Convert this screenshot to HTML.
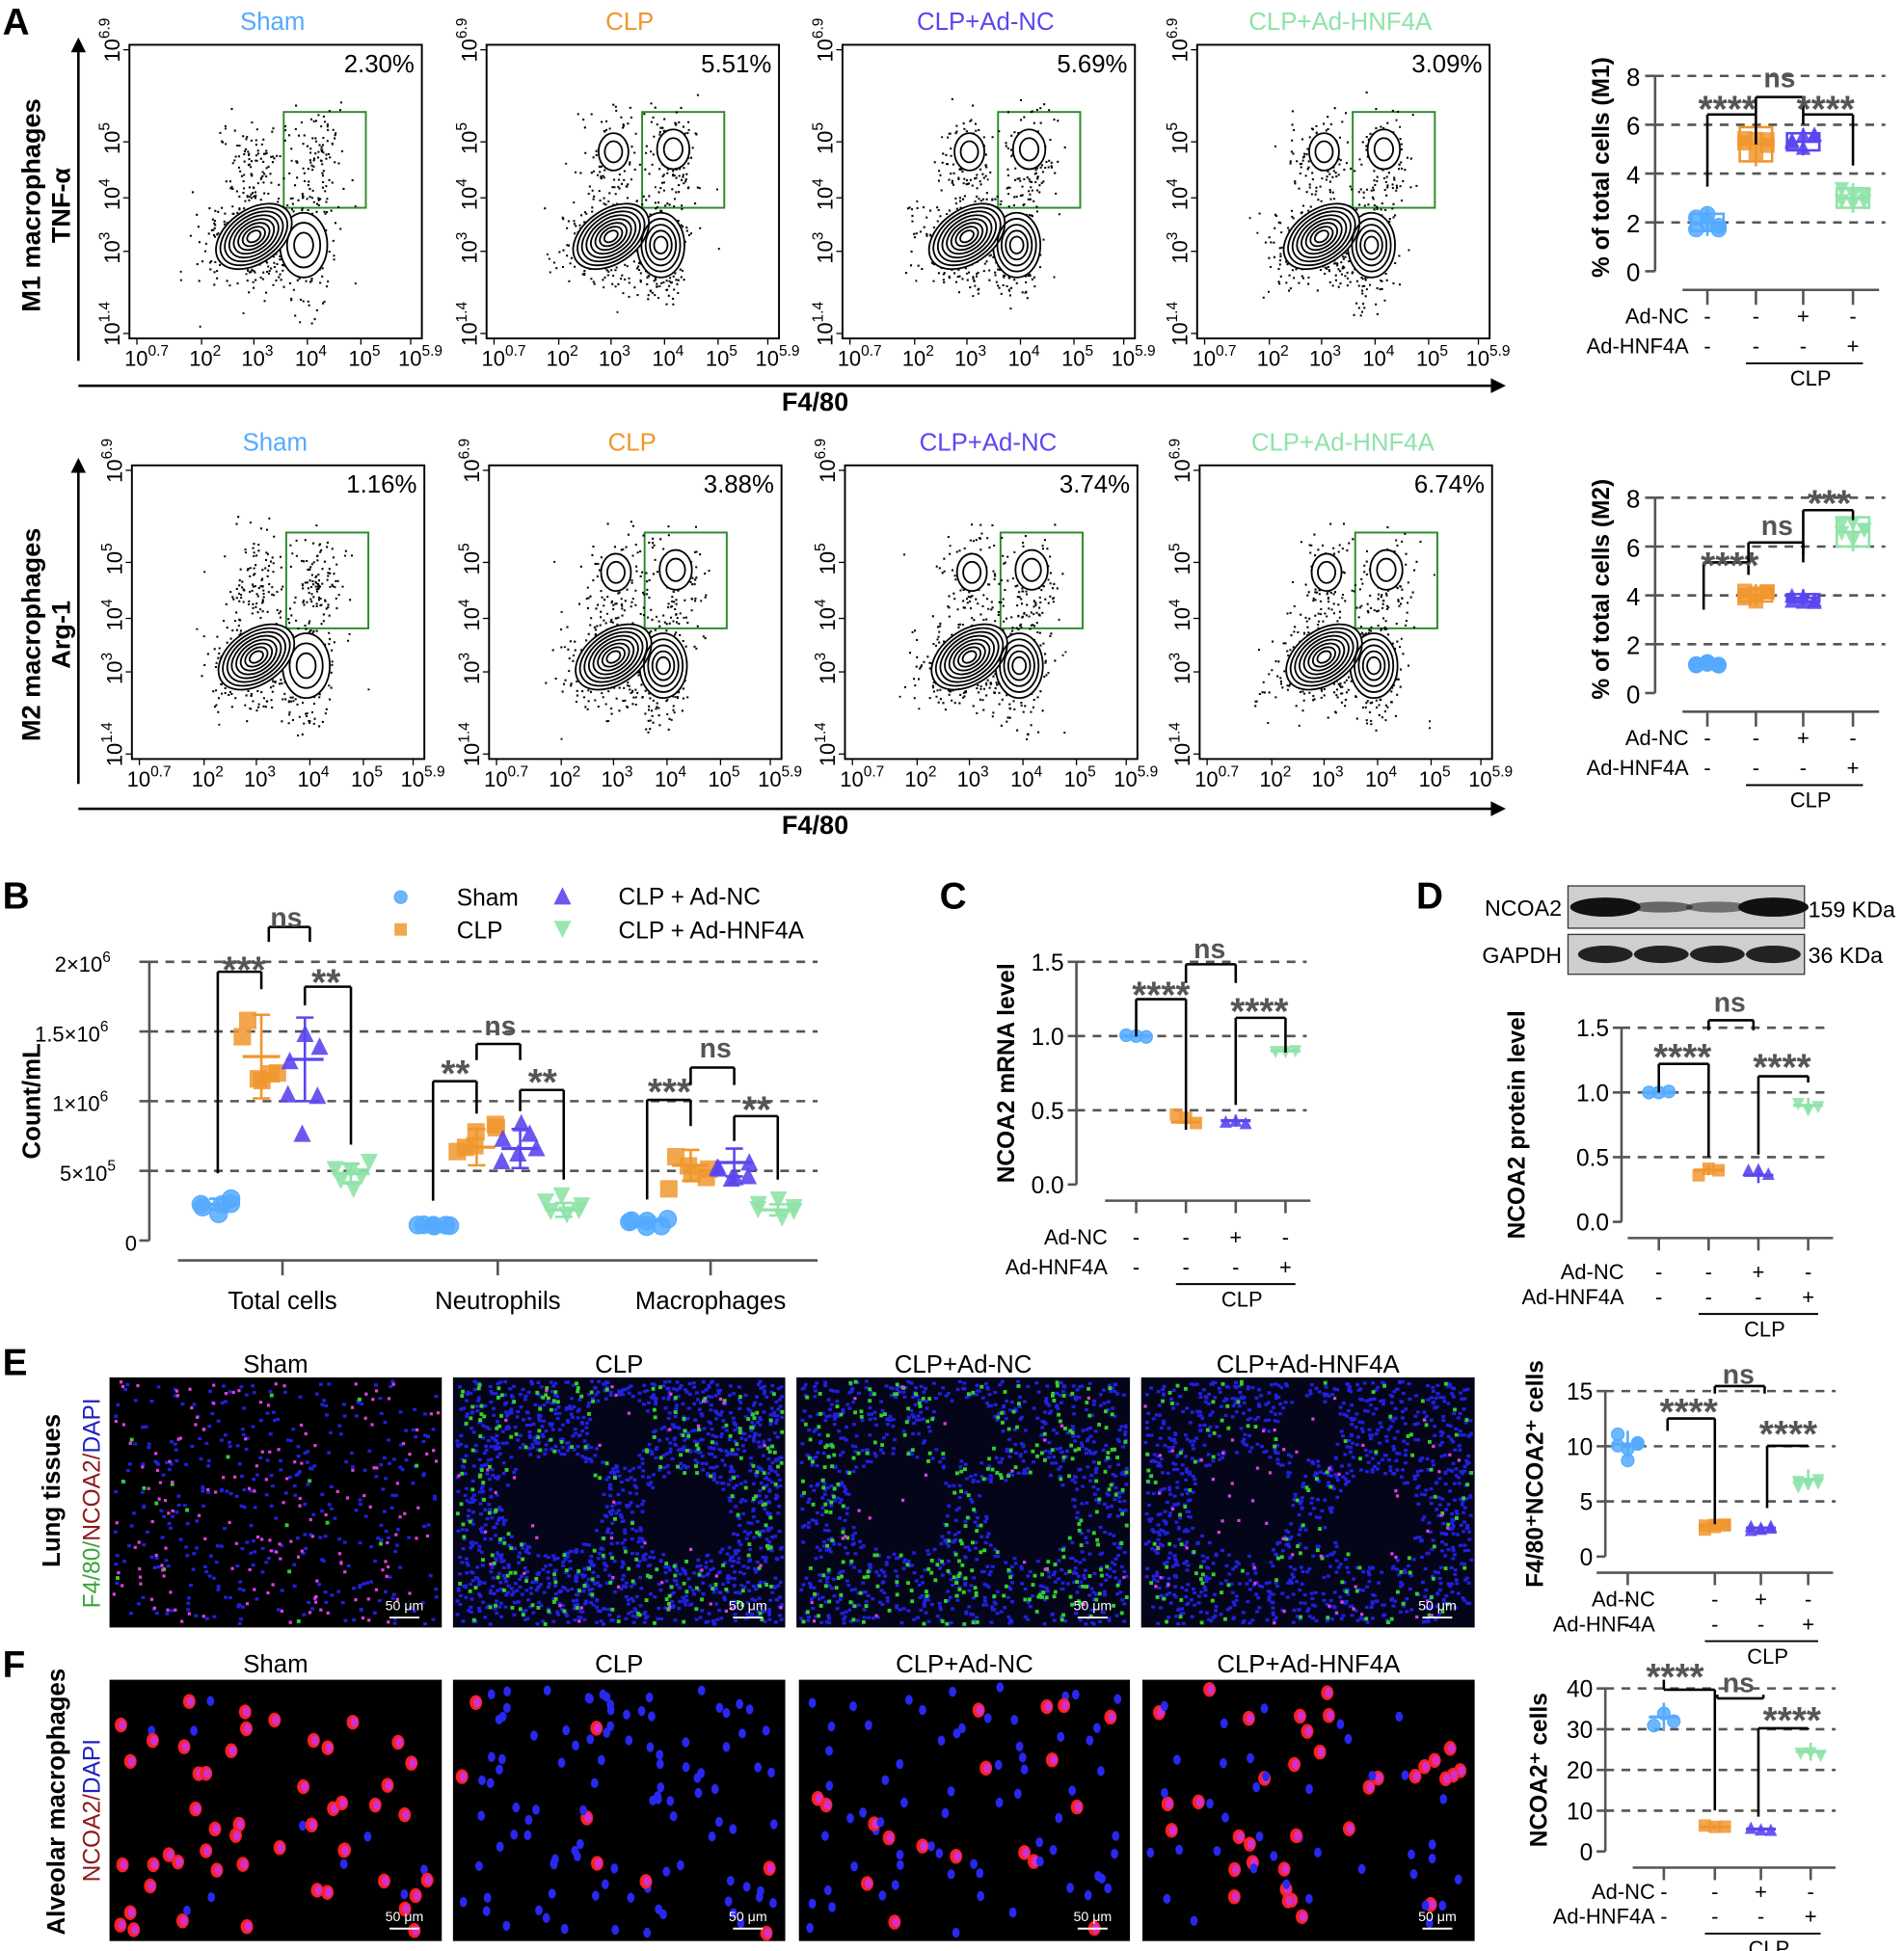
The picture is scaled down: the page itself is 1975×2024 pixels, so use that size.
<!DOCTYPE html>
<html><head><meta charset="utf-8">
<style>
html,body{margin:0;padding:0;background:#fff;}
svg{display:block;font-family:"Liberation Sans",Arial,sans-serif;}
</style></head>
<body>
<svg id="s" width="1975" height="2024" viewBox="0 0 1530 1568" preserveAspectRatio="none" xmlns="http://www.w3.org/2000/svg">
<rect width="1530" height="1568" fill="#fff"/>
<g font-weight="bold" font-size="30" fill="#000">
<text x="2" y="28">A</text><text x="2" y="730">B</text><text x="755" y="730">C</text>
<text x="1138" y="730">D</text><text x="2" y="1105">E</text><text x="2" y="1348">F</text>
</g>
<g font-weight="bold" font-size="21" text-anchor="middle">
<text transform="translate(32,165) rotate(-90)">M1 macrophages</text>
<text transform="translate(56,165) rotate(-90)">TNF-α</text>
<text transform="translate(32,510) rotate(-90)">M2 macrophages</text>
<text transform="translate(56,510) rotate(-90)">Arg-1</text>
<text x="655" y="330">F4/80</text><text x="655" y="670">F4/80</text>
</g>
<g id="dyn"></g>
</svg>
<script>
var NS="http://www.w3.org/2000/svg",G=document.getElementById("dyn");
var seed=7;function R(){seed=(seed*16807)%2147483647;return seed/2147483647;}
function N(){return (R()+R()+R()-1.5)/0.5;}
function el(t,a,txt,p){var e=document.createElementNS(NS,t);for(var k in a)e.setAttribute(k,a[k]);if(txt!=null)e.textContent=txt;(p||G).appendChild(e);return e;}
function line(x1,y1,x2,y2,st,w,d,p){return el("line",{x1:x1,y1:y1,x2:x2,y2:y2,stroke:st||"#000","stroke-width":w||2,"stroke-dasharray":d||"none"},null,p);}
function txt(x,y,s,o){o=o||{};var a={x:x,y:y,"font-size":o.fs||18,fill:o.c||"#000","text-anchor":o.a||"start"};if(o.b)a["font-weight"]="bold";if(o.tr)a.transform=o.tr;return el("text",a,s);}
line(63,290,63,40,"#000",2);el("polygon",{points:"57,42 69,42 63,30"});
line(63,310,1200,310,"#000",2);el("polygon",{points:"1198,304 1198,316 1210,310"});
line(63,630,63,378,"#000",2);el("polygon",{points:"57,380 69,380 63,368"});
line(63,650,1200,650,"#000",2);el("polygon",{points:"1198,644 1198,656 1210,650"});
var names=["Sham","CLP","CLP+Ad-NC","CLP+Ad-HNF4A"],cols=["#55aaff","#f0962e","#5a46f0","#8fe3a8"];
var pcts=[["2.30%","5.51%","5.69%","3.09%"],["1.16%","3.88%","3.74%","6.74%"]];
var px=[104,391,677,962];
function sup(x,y,b,e,tr){var t=el("text",{x:x,y:y,"font-size":17,transform:tr||""});el("tspan",{},b,t);el("tspan",{dy:-8,"font-size":12},e,t);return t;}
function flow(x0,y0,row,i){
 var w=235,h=236,yb=y0+h;
 txt(x0+115,y0-12,names[i],{c:cols[i],a:"middle",fs:20});
 el("rect",{x:x0,y:y0,width:w,height:h,fill:"none",stroke:"#000","stroke-width":1.5});
 txt(x0+w-6,y0+22,pcts[row][i],{a:"end",fs:20});
 var xl=[[6,"0.7"],[58,"2"],[100,"3"],[143,"4"],[186,"5"],[226,"5.9"]];
 xl.forEach(function(v){sup(x0+v[0]-10,yb+22,"10",v[1]);line(x0+v[0],yb,x0+v[0],yb+5,"#000",1);});
 var yl=[[4,"1.4"],[70,"3"],[113,"4"],[158,"5"],[232,"6.9"]];
 yl.forEach(function(v){var y=yb-v[0];sup(0,0,"10",v[1],"translate("+(x0-8)+","+(y+10)+") rotate(-90)");line(x0-5,y,x0,y,"#000",1);});
 var gx=x0+124,gy=yb-182;if(i>0){gx=x0+125;}
 el("rect",{x:gx,y:gy,width:66,height:77,fill:"none",stroke:"#2a8a2a","stroke-width":1.5});
 var g=el("g",{});
 var cx1=x0+100,cy1=yb-82,cx2=x0+140,cy2=yb-80;
 var clusters=[[cx1,cy1,20,14,220],[cx2,cy2+10,10,22,140],[x0+100,yb-140,12,22,110],[x0+150,yb-140,11,22,110],[cx1,cy1+25,22,10,70]];
 var path="";
 clusters.forEach(function(c){for(var k=0;k<c[4];k++){var x=c[0]+N()*c[2],y=c[1]+N()*c[3];if(x>x0+3&&x<x0+w-3&&y>y0+3&&y<yb-3)path+="M"+x.toFixed(1)+" "+y.toFixed(1)+"h1.6v1.6h-1.6z";}});
 for(var k=0;k<12;k++){var x=x0+40+R()*150,y=yb-180+R()*170;path+="M"+x.toFixed(1)+" "+y.toFixed(1)+"h1.5v1.5h-1.5z";}
 el("path",{d:path,fill:"#000"},null,g);
 for(var k=1;k<=8;k++){el("ellipse",{cx:cx1,cy:cy1,rx:32*k/8+2,ry:20*k/8+1.5,transform:"rotate(-35 "+cx1+" "+cy1+")",fill:k==8?"#fff":"none",stroke:"#000","stroke-width":1.4},null,g);}
 var n2=i==0?3:5;for(var k=1;k<=n2;k++){el("ellipse",{cx:cx2,cy:cy2+5,rx:17*k/n2+2,ry:24*k/n2+2,fill:k==n2?"#fff":"none",stroke:"#000","stroke-width":1.4},null,g);}
 if(i>0){[[x0+102,yb-150,10,13],[x0+150,yb-152,11,14]].forEach(function(b){for(var k=1;k<=2;k++)el("ellipse",{cx:b[0],cy:b[1],rx:b[2]*k/2+2,ry:b[3]*k/2+2,fill:k==2?"#fff":"none",stroke:"#000","stroke-width":1.4},null,g);});}
 var arr=[].slice.call(g.querySelectorAll("ellipse[fill='#fff']"));arr.forEach(function(e){g.insertBefore(e,g.childNodes[1]);});
}
for(var i=0;i<4;i++){flow(px[i],36,0,i);flow(px[i]+2,374,1,i);}
function marker(x,y,i,sz,p){sz=sz||6;var c=cols[i];
 if(i==0)return el("circle",{cx:x,cy:y,r:sz,fill:c,stroke:c,"fill-opacity":0.85},null,p);
 if(i==1)return el("rect",{x:x-sz,y:y-sz,width:2*sz,height:2*sz,fill:c,"fill-opacity":0.85},null,p);
 if(i==2)return el("polygon",{points:(x-sz)+","+(y+sz)+" "+(x+sz)+","+(y+sz)+" "+x+","+(y-sz),fill:c,"fill-opacity":0.9},null,p);
 return el("polygon",{points:(x-sz)+","+(y-sz)+" "+(x+sz)+","+(y-sz)+" "+x+","+(y+sz),fill:c,"fill-opacity":0.9},null,p);}
function stars(x,y,s,fs){txt(x,y,s,{a:"middle",fs:fs||30,b:1,c:"#555"});}
function bracket(x1,y1a,x2,y2a,top){line(x1,y1a,x1,top,"#000",2);line(x1,top,x2,top,"#000",2);line(x2,top,x2,y2a,"#000",2);}
function dashgrid(x1,x2,ys){ys.forEach(function(y){line(x1,y,x2,y,"#555",2,"7,6");});}
function signTable(xs,yA,yB,xLab,clpY,sz){sz=sz||17;
 txt(xLab,yA,"Ad-NC",{a:"end",fs:sz});txt(xLab,yB,"Ad-HNF4A",{a:"end",fs:sz});
 var a=["-","-","+","-"],b=["-","-","-","+"];
 xs.forEach(function(x,k){txt(x,yA,a[k],{a:"middle",fs:sz});txt(x,yB,b[k],{a:"middle",fs:sz});});
 line(xs[1]-8,clpY,xs[3]+8,clpY,"#000",1.5);txt((xs[1]+xs[3])/2+5,clpY+18,"CLP",{a:"middle",fs:sz});}
function boxgroup(x,yc,i,spread,n){var c=cols[i];el("rect",{x:x-13,y:yc-spread,width:26,height:2*spread,fill:"none",stroke:c,"stroke-width":2});
 line(x-13,yc,x+13,yc,c,2);line(x,yc-spread-4,x,yc+spread+4,c,2);
 for(var k=0;k<n;k++)marker(x-9+(k%3)*9,yc-spread+R()*2*spread,i,6);}
function aChart(y0,title,vals,spreads){
 var ax=1330,scale=(218-61)/8;var Y=function(v){return y0+(8-v)*scale;};
 dashgrid(ax,1515,[Y(8),Y(6),Y(4),Y(2)]);
 line(ax,Y(8),ax,Y(0),"#555",2);
 [0,2,4,6,8].forEach(function(v){line(ax-8,Y(v),ax,Y(v),"#555",2);txt(ax-12,Y(v)+8,String(v),{a:"end",fs:20});});
 txt(0,0,title,{a:"middle",fs:19,b:1,tr:"translate(1293,"+(Y(4)-5)+") rotate(-90)"});
 var xs=[1372,1411,1449,1489];
 xs.forEach(function(x,k){boxgroup(x,Y(vals[k]),k,spreads[k]*scale,6);});
 line(1352,Y(0)+15,1510,Y(0)+15,"#555",2);xs.forEach(function(x){line(x,Y(0)+15,x,Y(0)+27,"#555",2);});
 signTable(xs,Y(0)+42,Y(0)+66,1357,Y(0)+74,17);
 return {Y:Y,xs:xs};}
aChart(61,"% of total cells (M1)",[2,5.2,5.3,3],[0.35,0.7,0.35,0.4]);
bracket(1372,150,1411,116,92);stars(1388,98,"****");bracket(1411,92,1449,92,78);txt(1430,70,"ns",{a:"middle",fs:22,b:1,c:"#555"});
bracket(1449,100,1489,133,92);stars(1467,98,"****");
aChart(400,"% of total cells (M2)",[1.2,4,3.9,6.6],[0.12,0.25,0.15,0.6]);
bracket(1369,490,1405,462,452);stars(1390,465,"****");bracket(1405,452,1449,452,436);txt(1428,430,"ns",{a:"middle",fs:22,b:1,c:"#555"});
bracket(1449,446,1489,418,410);stars(1470,415,"***");
(function(){var ax=120,Y=function(v){return 997-v*224/2e6;};
 dashgrid(ax,657,[Y(2e6),Y(1.5e6),Y(1e6),Y(5e5)]);
 line(ax,Y(2e6),ax,997,"#555",2);
 [0,5e5,1e6,1.5e6,2e6].forEach(function(v){line(ax-8,Y(v),ax,Y(v),"#555",2);});
 sup(48,Y(5e5)+8,"5×10","5");sup(42,Y(1e6)+8,"1×10","6");sup(28,Y(1.5e6)+8,"1.5×10","6");sup(44,Y(2e6)+8,"2×10","6");txt(110,Y(0)+8,"0",{a:"end",fs:17});
 txt(0,0,"Count/mL",{a:"middle",fs:20,b:1,tr:"translate(32,885) rotate(-90)"});
 line(143,1013,657,1013,"#555",2);[227,400,571].forEach(function(x){line(x,1013,x,1025,"#555",2);});
 txt(227,1052,"Total cells",{a:"middle",fs:20});txt(400,1052,"Neutrophils",{a:"middle",fs:20});txt(571,1052,"Macrophages",{a:"middle",fs:20});
 var groups=[[175,210,245,282],[348,383,418,453],[520,555,590,625]];
 var means=[[2.6e5,1.32e6,1.3e6,4.8e5],[1.1e5,6.7e5,6.6e5,2.2e5],[1.4e5,5.4e5,5.6e5,2.2e5]];
 var sds=[[4e4,3e5,3e5,7e4],[1.5e4,1.3e5,1.4e5,5e4],[2.5e4,1.1e5,1e5,4e4]];
 groups.forEach(function(g,gi){g.forEach(function(x,k){var m=means[gi][k],s=sds[gi][k],c=cols[k];
  for(var j=0;j<6;j++)marker(x-12+(j%3)*12+N()*2,Y(m+N()*s*0.8),k,7);
  line(x,Y(m-s),x,Y(m+s),c,2);line(x-15,Y(m),x+15,Y(m),c,2.5);line(x-7,Y(m-s),x+7,Y(m-s),c,2);line(x-7,Y(m+s),x+7,Y(m+s),c,2);});});
 bracket(175,943,210,795,781);stars(196,790,"***");bracket(216,757,249,757,745);txt(230,745,"ns",{a:"middle",fs:22,b:1,c:"#555"});bracket(245,808,282,920,793);stars(262,800,"**");
 bracket(348,965,383,895,869);stars(366,873,"**");bracket(383,852,418,852,839);txt(402,832,"ns",{a:"middle",fs:22,b:1,c:"#555"});bracket(418,893,453,948,876);stars(436,880,"**");
 bracket(520,964,555,905,884);stars(538,888,"***");bracket(555,872,590,872,858);txt(575,850,"ns",{a:"middle",fs:22,b:1,c:"#555"});bracket(590,917,625,948,897);stars(608,902,"**");
 marker(322,721,0,5);txt(367,728,"Sham",{fs:19});marker(322,747,1,5);txt(367,754,"CLP",{fs:19});
 marker(452,720,2,7);txt(497,727,"CLP + Ad-NC",{fs:19});marker(452,747,3,7);txt(497,754,"CLP + Ad-HNF4A",{fs:19});
})();
function sigChart(o){var ax=o.ax,Y=function(v){return o.y0+(o.vmax-v)*(o.yz-o.y0)/o.vmax;};
 dashgrid(ax,o.xr,o.grid.map(Y));line(ax,Y(o.vmax),ax,o.yz,"#555",2);
 o.ticks.forEach(function(v){line(ax-7,Y(v),ax,Y(v),"#555",2);txt(ax-10,Y(v)+7,o.tl?o.tl(v):String(v),{a:"end",fs:19});});
 txt(0,0,o.title,{a:"middle",fs:19,b:1,tr:"translate("+o.tx+","+((o.y0+o.yz)/2)+") rotate(-90)"});
 line(o.xs[0]-25,o.yz+o.base,o.xs[3]+20,o.yz+o.base,"#555",2);o.xs.forEach(function(x){line(x,o.yz+o.base,x,o.yz+o.base+10,"#555",2);});
 o.xs.forEach(function(x,k){var m=o.m[k],s=o.sd[k],c=cols[k];for(var j=0;j<o.n;j++)marker(x-8+(j%3)*8,Y(m+N()*s*0.5),k,5);
  line(x,Y(m-s),x,Y(m+s),c,2);line(x-12,Y(m),x+12,Y(m),c,2.5);});
 signTable(o.xs,o.yz+o.sA,o.yz+o.sB,o.lab,o.yz+o.sB+8,17);return Y;}
sigChart({ax:865,xr:1050,y0:773,yz:952,vmax:1.5,grid:[1.5,1,0.5],ticks:[0,0.5,1,1.5],tl:function(v){return v.toFixed(1);},title:"NCOA2 mRNA level",tx:815,xs:[913,953,993,1033],m:[1,0.42,0.43,0.9],sd:[0.01,0.05,0.04,0.01],n:3,base:13,sA:48,sB:72,lab:890});
bracket(913,833,953,908,803);stars(933,810,"****");bracket(953,790,993,790,775);txt(972,770,"ns",{a:"middle",fs:22,b:1,c:"#555"});bracket(993,888,1033,846,818);stars(1012,823,"****");
(function(){el("rect",{x:1260,y:712,width:190,height:34,fill:"#cfcfcf",stroke:"#333","stroke-width":1});el("rect",{x:1260,y:751,width:190,height:32,fill:"#cfcfcf",stroke:"#333","stroke-width":1});
 var bw=[[1,34,14],[0.55,30,8],[0.5,30,8],[1,34,14]];[1285,1330,1375,1420].forEach(function(x,k){el("ellipse",{cx:x+5,cy:729,rx:bw[k][1]/1.4+4,ry:bw[k][2]*0.55,fill:"#111","fill-opacity":bw[k][0]});el("ellipse",{cx:x+5,cy:767,rx:22,ry:7,fill:"#222"});});
 txt(1255,736,"NCOA2",{a:"end",fs:18});txt(1255,774,"GAPDH",{a:"end",fs:18});txt(1453,737,"159 KDa",{fs:18});txt(1453,774,"36 KDa",{fs:18});})();
sigChart({ax:1303,xr:1470,y0:826,yz:982,vmax:1.5,grid:[1.5,1,0.5],ticks:[0,0.5,1,1.5],tl:function(v){return v.toFixed(1);},title:"NCOA2 protein level",tx:1225,xs:[1333,1373,1413,1453],m:[1,0.4,0.36,0.9],sd:[0.01,0.04,0.06,0.06],n:3,base:13,sA:46,sB:66,lab:1305});
bracket(1333,878,1373,930,855);stars(1352,860,"****");bracket(1373,828,1409,828,820);txt(1390,813,"ns",{a:"middle",fs:22,b:1,c:"#555"});bracket(1413,928,1453,870,865);stars(1432,868,"****");
sigChart({ax:1290,xr:1475,y0:1118,yz:1251,vmax:15,grid:[15,10,5],ticks:[0,5,10,15],title:"F4/80⁺NCOA2⁺ cells",tx:1240,xs:[1308,1378,1415,1453],m:[10.2,2.8,2.6,7],sd:[1.2,0.4,0.3,0.9],n:6,base:13,sA:40,sB:60,lab:1330});
bracket(1340,1150,1378,1225,1140);stars(1357,1145,"****");bracket(1378,1120,1418,1120,1114);txt(1397,1112,"ns",{a:"middle",fs:22,b:1,c:"#555"});bracket(1420,1212,1453,1163,1162);stars(1437,1163,"****");
sigChart({ax:1290,xr:1475,y0:1357,yz:1488,vmax:40,grid:[40,30,20,10],ticks:[0,10,20,30,40],title:"NCOA2⁺ cells",tx:1243,xs:[1337,1378,1415,1455],m:[33,6,5.5,24.5],sd:[3.5,0.6,0.6,2.2],n:3,base:13,sA:38,sB:58,lab:1330});
bracket(1337,1350,1378,1455,1358);stars(1346,1358,"****");bracket(1380,1362,1417,1362,1365);txt(1397,1360,"ns",{a:"middle",fs:22,b:1,c:"#555"});bracket(1413,1460,1453,1390,1389);stars(1440,1393,"****");
var ex=[[88,355],[364,631],[640,908],[917,1185]];
var etitles=["Sham","CLP","CLP+Ad-NC","CLP+Ad-HNF4A"];
ex.forEach(function(r,k){var x=r[0],w=r[1]-r[0],y=1107,h=201;txt(x+w/2,y-4,etitles[k],{a:"middle",fs:20});
 el("rect",{x:x,y:y,width:w,height:h,fill:k==0?"#000":"#05051a"});
 var nb=[700,1800,1200,1400][k],ng=[40,300,360,140][k],nm=[160,40,20,60][k];
 var holes=[[x+w*0.3,y+h*0.5,40],[x+w*0.7,y+h*0.55,35],[x+w*0.5,y+h*0.2,25]];
 var pb="",pg="",pm="";
 function ok(px,py){if(k==0){return R()<0.5;}for(var q=0;q<holes.length;q++){var d=Math.hypot(px-holes[q][0],py-holes[q][1]);if(d<holes[q][2])return false;}return true;}
 for(var j=0;j<nb;j++){var px=x+2+R()*(w-6),py=y+2+R()*(h-6);if(ok(px,py))pb+="M"+px.toFixed(1)+" "+py.toFixed(1)+"h3v2.5h-3z";}
 for(var j=0;j<ng;j++){var px=x+2+R()*(w-6),py=y+2+R()*(h-6);if(ok(px,py))pg+="M"+px.toFixed(1)+" "+py.toFixed(1)+"h3v3h-3z";}
 for(var j=0;j<nm;j++){var px=x+2+R()*(w-6),py=y+2+R()*(h-6);pm+="M"+px.toFixed(1)+" "+py.toFixed(1)+"h2.5v2.5h-2.5z";}
 el("path",{d:pb,fill:"#2020e0"});el("path",{d:pg,fill:"#30d030"});el("path",{d:pm,fill:"#e040e0"});
 txt(r[1]-30,y+h-14,"50 μm",{a:"middle",fs:11,c:"#fff"});line(r[1]-42,y+h-8,r[1]-18,y+h-8,"#fff",1.5);});
var fx=[[88,355],[364,631],[642,908],[918,1185]];
fx.forEach(function(r,k){var x=r[0],w=r[1]-r[0],y=1350,h=210;txt(x+w/2,y-6,etitles[k],{a:"middle",fs:20});
 el("rect",{x:x,y:y,width:w,height:h,fill:"#000"});
 var n=[60,110,85,75][k],red=[0.85,0.08,0.2,0.45][k];
 for(var j=0;j<n;j++){var px=x+6+R()*(w-12),py=y+6+R()*(h-12);
  if(R()<red){el("ellipse",{cx:px,cy:py,rx:5,ry:6,fill:"#ff2020"});el("ellipse",{cx:px+1,cy:py,rx:3,ry:4,fill:"#d030d0"});}
  else el("ellipse",{cx:px,cy:py,rx:3,ry:4,fill:"#2828f0"});}
 txt(r[1]-30,y+h-16,"50 μm",{a:"middle",fs:11,c:"#fff"});line(r[1]-42,y+h-10,r[1]-18,y+h-10,"#fff",1.5);});
(function(){var t=el("text",{"font-size":19,"text-anchor":"middle",transform:"translate(80,1208) rotate(-90)"});
 el("tspan",{fill:"#3aa63a"},"F4/80/",t);el("tspan",{fill:"#8b1a1a"},"NCOA2/",t);el("tspan",{fill:"#2020c0"},"DAPI",t);
 txt(0,0,"Lung tissues",{a:"middle",fs:20,b:1,tr:"translate(48,1198) rotate(-90)"});
 var t2=el("text",{"font-size":19,"text-anchor":"middle",transform:"translate(80,1455) rotate(-90)"});
 el("tspan",{fill:"#8b1a1a"},"NCOA2/",t2);el("tspan",{fill:"#2020c0"},"DAPI",t2);
 txt(0,0,"Alveolar macrophages",{a:"middle",fs:20,b:1,tr:"translate(52,1448) rotate(-90)"});})();
</script>
</body></html>
